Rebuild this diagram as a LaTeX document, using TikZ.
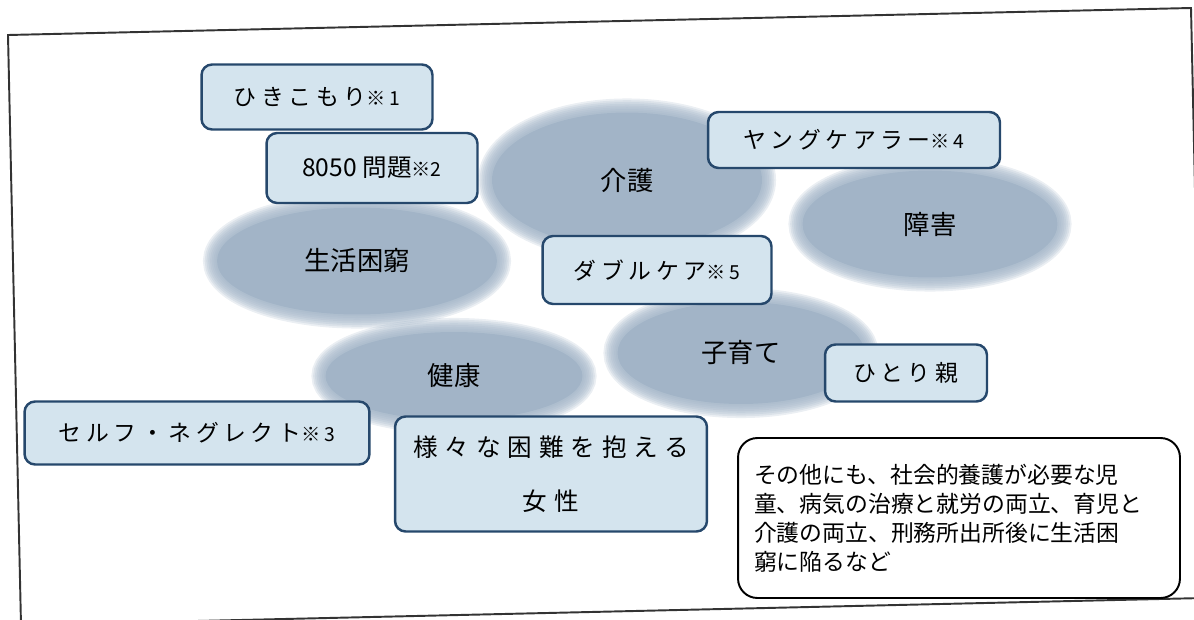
\documentclass[tikz,border=0pt]{standalone}
\usepackage{fontspec}
\setmainfont{Noto Sans CJK JP}
\newfontfamily\jpwide[LetterSpace=20]{Noto Sans CJK JP}
\newfontfamily\jpwider[LetterSpace=28]{Noto Sans CJK JP}
\usetikzlibrary{shapes.geometric}
\definecolor{blobblue}{RGB}{162,180,199}
\definecolor{boxfill}{RGB}{212,228,238}
\definecolor{boxline}{RGB}{38,72,108}
\newcommand\note[1]{{\fontsize{11}{11}\selectfont ※#1}}
\tikzset{
  halo/.style={preaction={draw=blobblue, draw opacity=0.22, line width=#1}},
  blob/.style={ellipse, fill=blobblue, inner sep=0pt,
    halo=16pt, halo=14pt, halo=12pt, halo=10pt, halo=8pt, halo=6pt, halo=4pt, halo=2pt,
    font=\fontsize{15}{18}\selectfont},
  tagbox/.style={rectangle, rounded corners=6pt, draw=boxline, line width=1.4pt,
    fill=boxfill, inner sep=0pt, font=\fontsize{13}{17}\selectfont\jpwide},
  notebox/.style={rectangle, rounded corners=11pt, draw=black, line width=1.1pt,
    fill=white, inner sep=0pt, font=\fontsize{13}{16.6}\selectfont},
  frameline/.style={draw=black!80, line width=1.1pt}
}
\begin{document}
\begin{tikzpicture}[x=0.02cm, y=-0.02cm]
        \useasboundingbox (0,0) rectangle (1194,619);
        % outer frame of the scan
        \coordinate (tl) at (8,35);
        \coordinate (tr) at (1191,8);
        \coordinate (br) at (1204,598);
        \coordinate (bl) at (21,625);
        \draw[frameline] (tl) -- (tr) -- (br) -- (bl) -- cycle;
        % areas
        \node[blob, minimum width=5.4cm,  minimum height=2.7cm]  (kaigo)    at (627,180) {介護};
        \node[blob, minimum width=5.6cm,  minimum height=2.14cm] (seikatsu) at (357,261) {生活困窮};
        \node[blob, minimum width=5.1cm,  minimum height=2.14cm] (shogai)   at (930,224) {障害};
        \node[blob, minimum width=5.14cm, minimum height=1.76cm] (kenko)    at (454,376) {健康};
        \node[blob, minimum width=4.94cm, minimum height=2.04cm] (kosodate) at (741,353) {子育て};
        % issues
        \node[tagbox, minimum width=4.62cm, minimum height=1.30cm] (hiki)   at (317,97)  {ひきこもり\note{1}};
        \node[tagbox, minimum width=4.22cm, minimum height=1.40cm, font=\fontsize{14}{17}\selectfont] (p8050) at (372,168) {8050 問題\note{2}};
        \node[tagbox, minimum width=5.84cm, minimum height=1.12cm] (young)  at (854,140) {ヤングケアラー\note{4}};
        \node[tagbox, minimum width=4.58cm, minimum height=1.36cm] (double) at (657,270) {ダブルケア\note{5}};
        \node[tagbox, minimum width=3.24cm, minimum height=1.14cm] (hitori) at (906,373) {ひとり親};
        \node[tagbox, minimum width=6.90cm, minimum height=1.26cm] (self)   at (197,433) {セルフ・ネグレクト\note{3}};
        \node[tagbox, minimum width=6.24cm, minimum height=2.30cm, align=center,
              font=\fontsize{14}{17}\selectfont\jpwider] (josei) at (551,474)
             {様々な困難を抱える\\[14pt]女性};
        \node[notebox, minimum width=8.84cm, minimum height=3.20cm, text width=8.2cm, align=left] (others) at (959,518)
             {その他にも、社会的養護が必要な児\\童、病気の治療と就労の両立、育児と\\介護の両立、刑務所出所後に生活困\\窮に陥るなど};
\end{tikzpicture}
\end{document}
